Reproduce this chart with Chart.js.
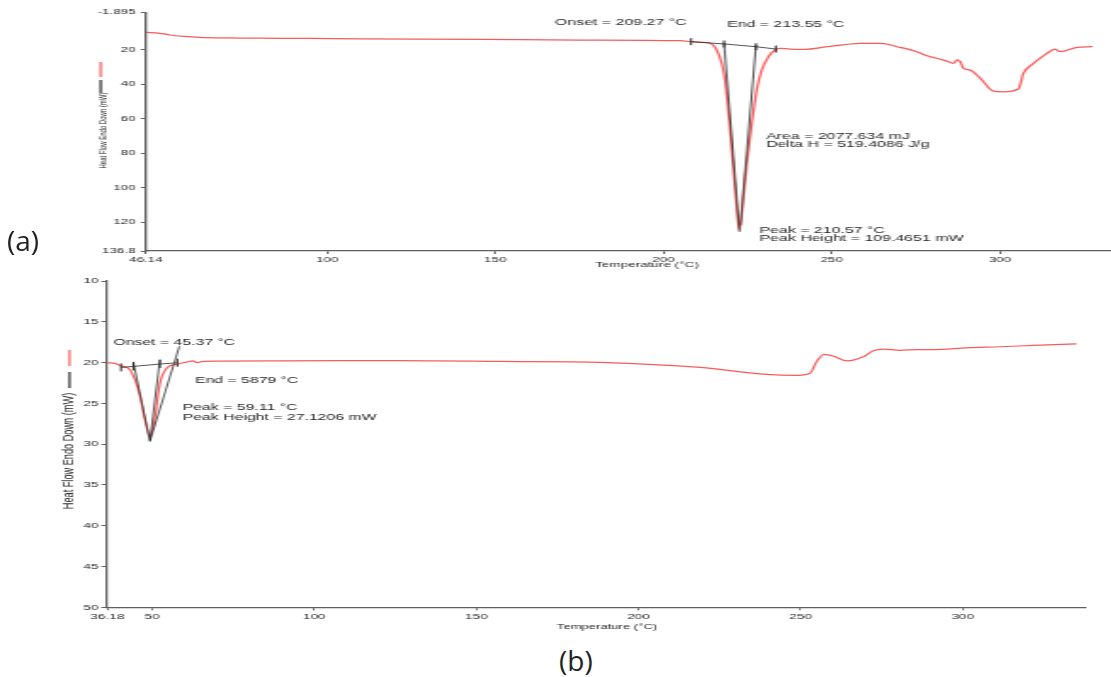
<!DOCTYPE html>
<html>
<head>
<meta charset="utf-8">
<title>DSC thermograms (a) and (b)</title>
<script src="https://cdn.jsdelivr.net/npm/chart.js@4.4.1/dist/chart.umd.min.js"></script>
<style>
  html, body { margin: 0; padding: 0; background: #fff; }
  #page { position: relative; width: 1111px; height: 677px; overflow: hidden; background: #fff; }
  canvas { position: absolute; left: 0; transform-origin: 0 0; }
  .panel { position: absolute; font-family: "Open Sans", sans-serif; font-size: 28px; line-height: 32px; color: #222; }
</style>
</head>
<body>
<div id="page">
  <canvas id="chartA"></canvas>
  <canvas id="chartB"></canvas>
  <div class="panel" style="left:7px; top:224px;">(a)</div>
  <div class="panel" style="left:559px; top:644px;">(b)</div>
</div>
<script>
// ---- (a) heat flow curve
const tempA = [46.14, 50.3, 53.3, 57.5, 62.2, 70, 86.0, 110, 145.5, 175, 205.0, 208.2, 211.5, 213.85,
  215.8, 217.3, 218.3, 219.8, 221.3, 222.56, 223.75, 224.76, 226.25, 227.7, 229.2, 231.2, 233.2, 234.7,
  237.6, 242, 248.5, 253.5, 258.5, 264.4, 267, 269.4, 272, 275.3, 278.3, 280.5, 283.2, 285.0, 286.2,
  287.2, 288.2, 289.2, 291.2, 294.2, 298.1, 301.1, 305.5, 307.0, 310.0, 314.0, 316.4, 317.9, 322.9, 327.6];
const heatA = [9.8, 10.3, 11.3, 12.1, 12.65, 13.0, 13.2, 13.5, 13.8, 14.2, 14.6, 15.2, 15.6, 16.1,
  20.0, 27.8, 37.5, 66.6, 101.5, 124.7, 105.4, 86.0, 62.7, 43.3, 31.7, 23.9, 20.0, 19.05,
  19.45, 19.6, 18.1, 17.0, 16.1, 16.1, 16.8, 18.1, 19.2, 21.0, 23.4, 24.5, 25.9, 27.0, 27.8,
  25.8, 26.8, 30.7, 31.7, 36.5, 43.9, 44.3, 42.7, 33.6, 27.8, 22.0, 19.45, 21.0, 18.5, 18.1];
const xTicksA = [46.14, 100, 150, 200, 250, 300];
const yTicksA = [-1.895, 20, 40, 60, 80, 100, 120, 136.8];
// onset / end construction lines (a)
const baseTempA = [208.2, 218.0, 227.5, 233.4];
const baseHeatA = [15.2, 16.5, 18.1, 19.45];
const tanLeftTempA = [218.0, 222.6];
const tanLeftHeatA = [15.8, 125.7];
const tanRightTempA = [227.5, 222.9];
const tanRightHeatA = [17.1, 122];

// ---- (b) heat flow curve
const tempB = [36.18, 38.5, 40.4, 43.2, 44.7, 46.3, 47.8, 49.35, 50.9, 52.4, 54.5, 57.6, 60.5, 62.6,
  63.8, 65.7, 90, 126.4, 157.3, 188.1, 219.0, 239.5, 248.2, 252.9, 254.9, 257.2, 260.0, 264.2,
  269.3, 272.4, 275.5, 280.6, 285.8, 290.9, 301.2, 311.5, 321.7, 335.1];
const heatB = [20.0, 20.1, 20.4, 20.9, 22.1, 24.2, 27.05, 29.1, 26.65, 22.55, 20.7, 20.2, 19.95, 19.8,
  20.0, 19.85, 19.8, 19.75, 19.85, 19.98, 20.6, 21.45, 21.57, 21.3, 19.9, 19.0, 19.2, 19.8,
  19.3, 18.55, 18.35, 18.5, 18.4, 18.4, 18.2, 18.06, 17.9, 17.7];
const xTicksB = [36.18, 50, 100, 150, 200, 250, 300];
const yTicksB = [10, 15, 20, 25, 30, 35, 40, 45, 50];
const baseTempB = [40.4, 44.2, 52.4, 57.8];
const baseHeatB = [20.59, 20.47, 20.18, 20.02];
const tanLeftTempB = [44.2, 49.35];
const tanLeftHeatB = [19.9, 29.7];
const tanRightTempB = [52.4, 49.35];
const tanRightHeatB = [19.6, 29.5];
const tanLongTempB = [49.35, 58.4];
const tanLongHeatB = [29.6, 18.0];

const SANS = '"Liberation Sans", Arial, sans-serif';
const RED = 'rgba(250,72,72,0.9)';
const INK = '#2a2a2a';
const AXIS = '#5f5f5f';
const TEXT = '#262626';

const pts = (xs, ys) => xs.map((x, i) => ({x: x, y: ys[i]}));

function curve(xs, ys) {
  return { data: pts(xs, ys), borderColor: RED, borderWidth: 1.25, pointRadius: 0,
           cubicInterpolationMode: 'monotone', order: 2 };
}
function guide(xs, ys, marks) {
  return { data: pts(xs, ys), borderColor: INK, borderWidth: 0.8, order: 1,
           pointStyle: 'line', pointRotation: 90, pointRadius: marks || 0,
           pointBorderColor: INK, pointBorderWidth: 1 };
}

// texts and the little legend strokes beside the y title; given in page pixels
function notesPlugin(sx, n) {
  return {
    id: 'notes',
    afterDraw(chart) {
      const ctx = chart.ctx;
      ctx.save();
      ctx.fillStyle = TEXT;
      ctx.textBaseline = 'middle';
      n.texts.forEach(t => {
        ctx.font = t.size + 'px ' + SANS;
        ctx.textAlign = t.align || 'left';
        ctx.fillText(t.text, t.x / sx, t.y);
      });
      const yt = n.yTitle;
      ctx.save();
      ctx.translate(yt.x / sx, yt.y);
      ctx.rotate(-Math.PI / 2);
      ctx.textAlign = 'center';
      ctx.font = yt.size + 'px ' + SANS;
      ctx.fillText(yt.text, 0, 0);
      ctx.restore();
      n.swatches.forEach(s => {
        ctx.strokeStyle = s.color;
        ctx.lineWidth = 1.2;
        ctx.beginPath();
        ctx.moveTo(s.x / sx, s.y1);
        ctx.lineTo(s.x / sx, s.y2);
        ctx.stroke();
      });
      ctx.restore();
    }
  };
}

function dscChart(id, o) {
  const canvas = document.getElementById(id);
  const W = Math.ceil(1111 / o.sx);
  canvas.width = W;
  canvas.height = o.height;
  canvas.style.width = W + 'px';
  canvas.style.height = o.height + 'px';
  canvas.style.top = o.top + 'px';
  canvas.style.transform = 'scaleX(' + o.sx + ')';
  const L = o.area.left / o.sx;
  const R = o.area.right / o.sx;
  const tickFont = {family: SANS, size: o.tickSize};

  return new Chart(canvas, {
    type: 'line',
    data: { datasets: o.datasets },
    options: {
      responsive: false,
      animation: false,
      events: [],
      layout: { autoPadding: false, padding: {left: 0, right: W - R, top: o.area.top, bottom: 0} },
      scales: {
        x: {
          type: 'linear', min: o.xMin, max: o.xMax,
          afterBuildTicks: s => { s.ticks = o.xTicks.map(v => ({value: v})); },
          afterFit: s => { s.height = o.height - o.area.bottom; },
          grid: { display: true, drawOnChartArea: false, tickLength: 3, color: AXIS, tickColor: AXIS },
          border: { display: true, color: AXIS, width: 1.3 },
          ticks: { autoSkip: false, maxRotation: 0, padding: o.xPad, color: TEXT, font: tickFont,
                   callback: v => String(v) }
        },
        y: {
          type: 'linear', reverse: true, min: o.yMin, max: o.yMax,
          afterBuildTicks: s => { s.ticks = o.yTicks.map(v => ({value: v})); },
          afterFit: s => { s.width = L; },
          grid: { display: true, drawOnChartArea: false, tickLength: o.yTick, color: AXIS, tickColor: AXIS },
          border: { display: true, color: AXIS, width: 1.3 },
          ticks: { autoSkip: false, padding: o.yPad, color: TEXT, font: tickFont,
                   callback: v => String(v) }
        }
      },
      plugins: { legend: {display: false}, tooltip: {enabled: false} }
    },
    plugins: [notesPlugin(o.sx, o.notes)]
  });
}

// (a)
dscChart('chartA', {
  sx: 1.9, top: 0, height: 275,
  area: {left: 146, right: 1111.5, top: 12.3, bottom: 251},
  xMin: 46.14, xMax: 333.2, yMin: -1.895, yMax: 136.8,
  xTicks: xTicksA, yTicks: yTicksA, tickSize: 7, xPad: 2, yPad: 2.8, yTick: 2.7,
  datasets: [
    curve(tempA, heatA),
    guide(baseTempA, baseHeatA, 3.5),
    guide(tanLeftTempA, tanLeftHeatA),
    guide(tanRightTempA, tanRightHeatA)
  ],
  notes: {
    texts: [
      {text: 'Onset = 209.27 °C', x: 555, y: 23, size: 8.4},
      {text: 'End = 213.55 °C', x: 727, y: 25, size: 8.4},
      {text: 'Area = 2077.634 mJ', x: 766, y: 137, size: 8.4},
      {text: 'Delta H = 519.4086 J/g', x: 766, y: 144.5, size: 8.4},
      {text: 'Peak = 210.57 °C', x: 759.5, y: 231, size: 8.4},
      {text: 'Peak Height = 109.4651 mW', x: 759.5, y: 239, size: 8.4},
      {text: 'Temperature (°C)', x: 647, y: 265.5, size: 7.1, align: 'center'}
    ],
    yTitle: {text: 'Heat Flow Endo Down (mW)', x: 102.5, y: 130.5, size: 6},
    swatches: [
      {color: RED, x: 100.7, y1: 62, y2: 77},
      {color: INK, x: 100.7, y1: 80, y2: 93}
    ]
  }
});

// (b)
dscChart('chartB', {
  sx: 1.7, top: 270, height: 370,
  area: {left: 107.3, right: 1086, top: 11, bottom: 337.3},
  xMin: 36.18, xMax: 338.0, yMin: 10, yMax: 50,
  xTicks: xTicksB, yTicks: yTicksB, tickSize: 8, xPad: 2, yPad: 1.7, yTick: 3.5,
  datasets: [
    curve(tempB, heatB),
    guide(baseTempB, baseHeatB, 4),
    guide(tanLeftTempB, tanLeftHeatB),
    guide(tanRightTempB, tanRightHeatB),
    guide(tanLongTempB, tanLongHeatB)
  ],
  notes: {
    texts: [
      {text: 'Onset = 45.37 °C', x: 113.3, y: 72.7, size: 9.3},
      {text: 'End = 5879 °C', x: 195, y: 110, size: 9.3},
      {text: 'Peak = 59.11 °C', x: 182.7, y: 137.7, size: 9.3},
      {text: 'Peak Height = 27.1206 mW', x: 182.7, y: 147.3, size: 9.3},
      {text: 'Temperature (°C)', x: 607, y: 357, size: 7.7, align: 'center'}
    ],
    yTitle: {text: 'Heat Flow Endo Down (mW)', x: 69, y: 181, size: 9.2},
    swatches: [
      {color: RED, x: 69.5, y1: 80, y2: 96},
      {color: INK, x: 69.5, y1: 102, y2: 118}
    ]
  }
});
</script>
</body>
</html>
